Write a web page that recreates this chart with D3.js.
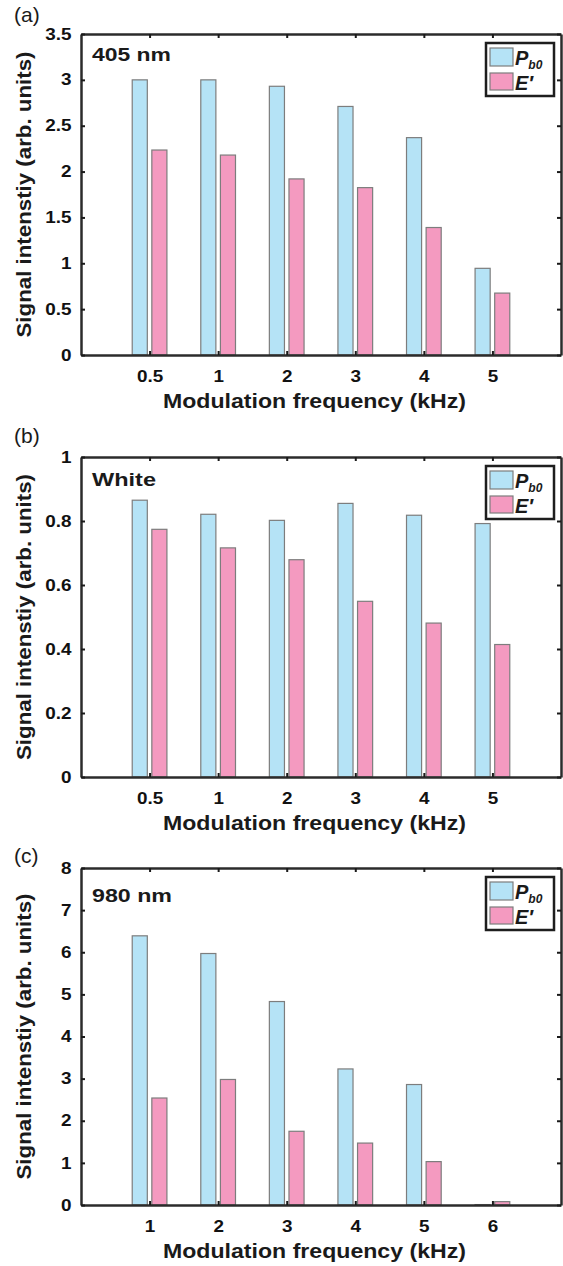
<!DOCTYPE html>
<html>
<head>
<meta charset="utf-8">
<script src="https://cdn.jsdelivr.net/npm/d3@7"></script>
<style>
  body { margin: 0; background: #fff; }
  svg { display: block; }
  .tick text { font-family: "Liberation Sans", Arial, sans-serif; font-weight: 700; fill: #111; }
</style>
</head>
<body>
<svg id="chart" width="563" height="1266"></svg>
<script>
// (a) 405 nm
const catsA = ["0.5", "1", "2", "3", "4", "5"];
const pb0A = [3.0, 3.0, 2.93, 2.71, 2.37, 0.945];
const eA = [2.235, 2.18, 1.92, 1.825, 1.39, 0.675];
const yTicksA = [0, 0.5, 1, 1.5, 2, 2.5, 3, 3.5];

// (b) White
const catsB = ["0.5", "1", "2", "3", "4", "5"];
const pb0B = [0.865, 0.821, 0.802, 0.855, 0.818, 0.792];
const eB = [0.774, 0.716, 0.679, 0.549, 0.481, 0.414];
const yTicksB = [0, 0.2, 0.4, 0.6, 0.8, 1];

// (c) 980 nm
const catsC = ["1", "2", "3", "4", "5", "6"];
const pb0C = [6.39, 5.97, 4.83, 3.23, 2.86, 0.01];
const eC = [2.54, 2.98, 1.75, 1.47, 1.03, 0.08];
const yTicksC = [0, 1, 2, 3, 4, 5, 6, 7, 8];

const blue = "#b5e3f6", pink = "#f49ac0", edge = "#7d7d7d", ink = "#1a1a1a";
const font = '"Liberation Sans", Arial, sans-serif';

const left = 81, right = 561;

const panels = [
  { tag: "(a)", tagY: 22, note: "405 nm", noteW: 79, noteY: 27, cats: catsA, pb0: pb0A, e: eA, ticks: yTicksA, top: 34, bottom: 355 },
  { tag: "(b)", tagY: 443, note: "White", noteW: 64, noteY: 29, cats: catsB, pb0: pb0B, e: eB, ticks: yTicksB, top: 457, bottom: 777 },
  { tag: "(c)", tagY: 863, note: "980 nm", noteW: 80, noteY: 34, cats: catsC, pb0: pb0C, e: eC, ticks: yTicksC, top: 868, bottom: 1205 }
];

const svg = d3.select("#chart");

const x = d3.scaleLinear().domain([0, 7]).range([left, right]);
const barW = 0.22, off = 0.143;

panels.forEach(p => {
  const y = d3.scaleLinear()
    .domain([0, p.ticks[p.ticks.length - 1]])
    .range([p.bottom, p.top]);

  const g = svg.append("g");

  // bars
  const rows = p.cats.map((c, i) => ({ pos: i + 1, pb0: p.pb0[i], e: p.e[i] }));
  g.selectAll("rect.pb0")
    .data(rows)
    .enter().append("rect")
    .attr("class", "pb0")
    .attr("x", d => x(d.pos - off - barW / 2))
    .attr("width", x(barW) - x(0))
    .attr("y", d => y(d.pb0))
    .attr("height", d => y(0) - y(d.pb0))
    .attr("fill", blue)
    .attr("stroke", edge)
    .attr("stroke-width", 1.2);

  g.selectAll("rect.e")
    .data(rows)
    .enter().append("rect")
    .attr("class", "e")
    .attr("x", d => x(d.pos + off - barW / 2))
    .attr("width", x(barW) - x(0))
    .attr("y", d => y(d.e))
    .attr("height", d => y(0) - y(d.e))
    .attr("fill", pink)
    .attr("stroke", edge)
    .attr("stroke-width", 1.2);

  // axes (box on, ticks inward)
  const xb = g.append("g")
    .attr("transform", `translate(0,${p.bottom})`)
    .call(d3.axisBottom(x).tickValues(d3.range(1, 7))
      .tickFormat(d => p.cats[d - 1]).tickSize(-4).tickSizeOuter(0).tickPadding(16));
  const xt = g.append("g")
    .attr("transform", `translate(0,${p.top})`)
    .call(d3.axisTop(x).tickValues(d3.range(1, 7)).tickFormat("").tickSize(-4).tickSizeOuter(0));
  const yl = g.append("g")
    .attr("transform", `translate(${left},0)`)
    .call(d3.axisLeft(y).tickValues(p.ticks).tickFormat(d3.format("~g"))
      .tickSize(-4).tickSizeOuter(0).tickPadding(8));
  const yr = g.append("g")
    .attr("transform", `translate(${right},0)`)
    .call(d3.axisRight(y).tickValues(p.ticks).tickFormat("").tickSize(-4).tickSizeOuter(0));

  [xb, xt, yl, yr].forEach(a => {
    a.select(".domain").attr("stroke", "#2b2b2b").attr("stroke-width", 2.5);
    a.selectAll(".tick line").attr("stroke", "#1a1a1a").attr("stroke-width", 2);
    a.selectAll(".tick text").attr("font-size", 16).attr("fill", ink)
      .attr("transform", "scale(1.18,1)");
  });

  // panel tag
  svg.append("text")
    .attr("x", 14).attr("y", p.tagY)
    .attr("font-family", font)
    .attr("font-size", 21)
    .attr("fill", ink)
    .text(p.tag);

  // wavelength note
  svg.append("text")
    .attr("x", left + 11).attr("y", p.top + p.noteY)
    .attr("font-family", font).attr("font-weight", 700)
    .attr("font-size", 19).attr("fill", ink)
    .attr("textLength", p.noteW).attr("lengthAdjust", "spacingAndGlyphs")
    .text(p.note);

  // axis titles
  svg.append("text")
    .attr("x", 163).attr("y", p.bottom + 53)
    .attr("font-family", font).attr("font-weight", 700)
    .attr("font-size", 20.5).attr("fill", ink)
    .attr("textLength", 303).attr("lengthAdjust", "spacingAndGlyphs")
    .text("Modulation frequency (kHz)");

  const mid = (p.top + p.bottom) / 2;
  svg.append("text")
    .attr("transform", `translate(31,${mid + 143}) rotate(-90)`)
    .attr("font-family", font).attr("font-weight", 700)
    .attr("font-size", 20.5).attr("fill", ink)
    .attr("textLength", 286).attr("lengthAdjust", "spacingAndGlyphs")
    .text("Signal intenstiy (arb. units)");

  // legend
  const lg = svg.append("g").attr("transform", `translate(${right - 75},${p.top + 9})`);
  lg.append("rect").attr("width", 68).attr("height", 53)
    .attr("fill", "#fff").attr("stroke", "#1e1e1e").attr("stroke-width", 2.5);
  lg.append("rect").attr("x", 4).attr("y", 5).attr("width", 23).attr("height", 18)
    .attr("fill", blue).attr("stroke", edge).attr("stroke-width", 1.2);
  lg.append("rect").attr("x", 4).attr("y", 30).attr("width", 23).attr("height", 17)
    .attr("fill", pink).attr("stroke", edge).attr("stroke-width", 1.2);
  const pt = lg.append("text").attr("x", 29).attr("y", 22)
    .attr("font-family", font).attr("font-weight", 700).attr("font-style", "italic")
    .attr("font-size", 20).attr("fill", ink);
  pt.append("tspan").text("P");
  pt.append("tspan").attr("dy", 4).attr("font-size", 12).text("b0");
  lg.append("text").attr("x", 29).attr("y", 47)
    .attr("font-family", font).attr("font-weight", 700).attr("font-style", "italic")
    .attr("font-size", 20).attr("fill", ink)
    .text("E\u2032");
});
</script>
</body>
</html>
